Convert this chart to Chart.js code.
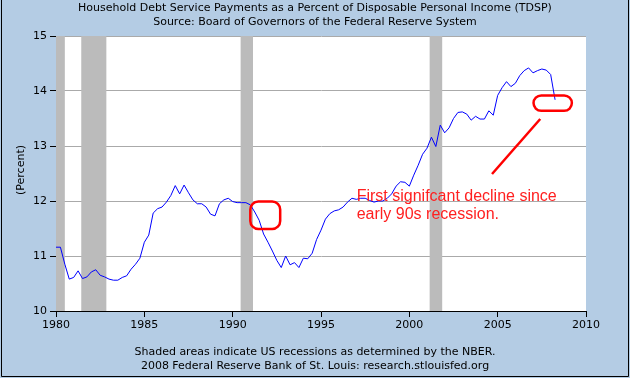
<!DOCTYPE html>
<html><head><meta charset="utf-8">
<script src="https://cdn.jsdelivr.net/npm/chart.js@4/dist/chart.umd.min.js"></script>
<style>html,body{margin:0;padding:0;background:#b4cce4;overflow:hidden}#wrap{width:630px;height:378px;position:relative}</style>
</head><body><div id="wrap"><canvas id="c" width="630" height="378"></canvas></div>
<script>
// Quarterly series, first value = 1980 Q1
const startYear = 1980;
const quartersPerYear = 4;
const tdsp = [
  11.16, 11.16, 10.85, 10.58,   // 1980
  10.61, 10.73, 10.59, 10.62,   // 1981
  10.71, 10.75, 10.65, 10.62,   // 1982
  10.58, 10.56, 10.56, 10.61,   // 1983
  10.64, 10.76, 10.85, 10.96,   // 1984
  11.25, 11.38, 11.78, 11.86,   // 1985
  11.89, 11.98, 12.10, 12.28,   // 1986
  12.13, 12.29, 12.15, 12.02,   // 1987
  11.95, 11.95, 11.89, 11.76,   // 1988
  11.73, 11.95, 12.02, 12.05,   // 1989
  11.99, 11.97, 11.97, 11.97,   // 1990
  11.93, 11.80, 11.65, 11.40,   // 1991
  11.25, 11.09, 10.92, 10.79,   // 1992
  11.00, 10.84, 10.88, 10.79,   // 1993
  10.96, 10.95, 11.05, 11.30,   // 1994
  11.47, 11.67, 11.77, 11.82,   // 1995
  11.84, 11.89, 11.98, 12.05,   // 1996
  12.03, 12.05, 12.05, 12.01,   // 1997
  11.98, 12.00, 12.00, 12.05,   // 1998
  12.13, 12.27, 12.35, 12.34,   // 1999
  12.27, 12.47, 12.65, 12.85,   // 2000
  12.96, 13.16, 12.99, 13.38,   // 2001
  13.24, 13.33, 13.50, 13.61,   // 2002
  13.62, 13.58, 13.47, 13.54,   // 2003
  13.49, 13.49, 13.64, 13.56,   // 2004
  13.92, 14.06, 14.17, 14.08,   // 2005
  14.14, 14.28, 14.37, 14.42,   // 2006
  14.33, 14.37, 14.40, 14.38,   // 2007
  14.30, 13.84                  // 2008
];
const recessions = [[1980.0, 1980.5], [1981.43, 1982.85], [1990.45, 1991.15], [2001.15, 2001.86]];
const xTickYears = [1980, 1985, 1990, 1995, 2000, 2005, 2010];
const yTickValues = [10, 11, 12, 13, 14, 15];
const titleLines = ['Household Debt Service Payments as a Percent of Disposable Personal Income (TDSP)', 'Source: Board of Governors of the Federal Reserve System'];
const footerLines = ['Shaded areas indicate US recessions as determined by the NBER.', '2008 Federal Reserve Bank of St. Louis: research.stlouisfed.org'];
const yAxisLabel = '(Percent)';
const noteLines = ['First signifcant decline since', 'early 90s recession.'];
// annotation anchors in data units
const highlightBoxes = [[1991.0, 11.99, 1992.69, 11.49], [2007.03, 13.92, 2009.2, 13.64]];
const pointerLine = [[2004.68, 12.49], [2007.41, 13.49]];
const noteAnchor = [1997.02, 12.08, 11.75];

const points = tdsp.map((v, i) => ({x: startYear + i / quartersPerYear, y: v}));
const BG = '#b4cce4';
const FONT = '11px "DejaVu Sans"';

const decor = {
  id: 'decor',
  beforeDraw(chart) {
    const {ctx, chartArea: a} = chart;
    ctx.save();
    ctx.fillStyle = BG;
    ctx.fillRect(0, 0, chart.width, chart.height);
    ctx.fillStyle = '#ffffff';
    ctx.fillRect(a.left, a.top, a.right - a.left, a.bottom - a.top);
    ctx.strokeStyle = '#000';
    ctx.lineWidth = 1;
    ctx.beginPath();
    ctx.moveTo(1.5, 0); ctx.lineTo(1.5, chart.height - 1.5);
    ctx.lineTo(chart.width - 1.5, chart.height - 1.5); ctx.lineTo(chart.width - 1.5, 0);
    ctx.stroke();
    ctx.fillStyle = '#000';
    ctx.font = FONT;
    ctx.textAlign = 'center';
    ctx.textBaseline = 'middle';
    ctx.fillText(titleLines[0], 315, 8);
    ctx.fillText(titleLines[1], 315, 22);
    ctx.fillText(footerLines[0], 315, 352);
    ctx.fillText(footerLines[1], 315, 366);
    ctx.translate(21, 170);
    ctx.rotate(-Math.PI / 2);
    ctx.fillText(yAxisLabel, 0, 0);
    ctx.restore();
  },
  beforeDatasetsDraw(chart) {
    const {ctx, chartArea: a, scales: {x}} = chart;
    ctx.save();
    ctx.fillStyle = '#bbbbbb';
    recessions.forEach(([s, e]) => {
      const x0 = x.getPixelForValue(s), x1 = x.getPixelForValue(e);
      ctx.fillRect(x0, a.top, x1 - x0, a.bottom - a.top);
    });
    ctx.restore();
  },
  afterDatasetsDraw(chart) {
    const {ctx, scales: {x, y}} = chart;
    ctx.save();
    ctx.strokeStyle = '#ff0000';
    ctx.lineWidth = 2.5;
    highlightBoxes.forEach(([x0, y0, x1, y1]) => {
      const px0 = x.getPixelForValue(x0), px1 = x.getPixelForValue(x1);
      const py0 = y.getPixelForValue(y0), py1 = y.getPixelForValue(y1);
      const r = Math.min(8, (py1 - py0) / 2);
      ctx.beginPath();
      ctx.roundRect(px0, py0, px1 - px0, py1 - py0, r);
      ctx.stroke();
    });
    ctx.beginPath();
    ctx.moveTo(x.getPixelForValue(pointerLine[0][0]), y.getPixelForValue(pointerLine[0][1]));
    ctx.lineTo(x.getPixelForValue(pointerLine[1][0]), y.getPixelForValue(pointerLine[1][1]));
    ctx.stroke();
    ctx.fillStyle = '#ff2020';
    ctx.font = '16px "Liberation Sans"';
    ctx.textAlign = 'left';
    ctx.textBaseline = 'middle';
    ctx.fillText(noteLines[0], x.getPixelForValue(noteAnchor[0]), y.getPixelForValue(noteAnchor[1]));
    ctx.fillText(noteLines[1], x.getPixelForValue(noteAnchor[0]), y.getPixelForValue(noteAnchor[2]));
    ctx.restore();
  }
};

new Chart(document.getElementById('c'), {
  type: 'line',
  data: {datasets: [{data: points, borderColor: '#0000ff', borderWidth: 1, pointRadius: 0, tension: 0, fill: false}]},
  options: {
    responsive: false, animation: false, devicePixelRatio: 1,
    layout: {padding: {left: 0, right: 44, top: 36, bottom: 0}},
    plugins: {legend: {display: false}, tooltip: {enabled: false}, title: {display: false}},
    scales: {
      x: {
        type: 'linear', min: xTickYears[0], max: xTickYears[xTickYears.length - 1],
        afterFit(s) { s.height = 67; },
        afterBuildTicks(s) { s.ticks = xTickYears.map(v => ({value: v})); },
        ticks: {color: '#000', font: {family: 'DejaVu Sans', size: 11}, padding: 2, maxRotation: 0, autoSkip: false, callback: v => String(v)},
        grid: {drawOnChartArea: false, tickColor: '#000', tickLength: 6, lineWidth: 1},
        border: {color: '#000', width: 1}
      },
      y: {
        min: yTickValues[0], max: yTickValues[yTickValues.length - 1],
        afterFit(s) { s.width = 56; },
        afterBuildTicks(s) { s.ticks = yTickValues.map(v => ({value: v})); },
        ticks: {color: '#000', font: {family: 'DejaVu Sans', size: 11}, padding: 3},
        grid: {color: '#aaaaaa', tickColor: '#000', tickLength: 6, lineWidth: 1},
        border: {color: '#000', width: 1}
      }
    }
  },
  plugins: [decor]
});
</script>
</body></html>
